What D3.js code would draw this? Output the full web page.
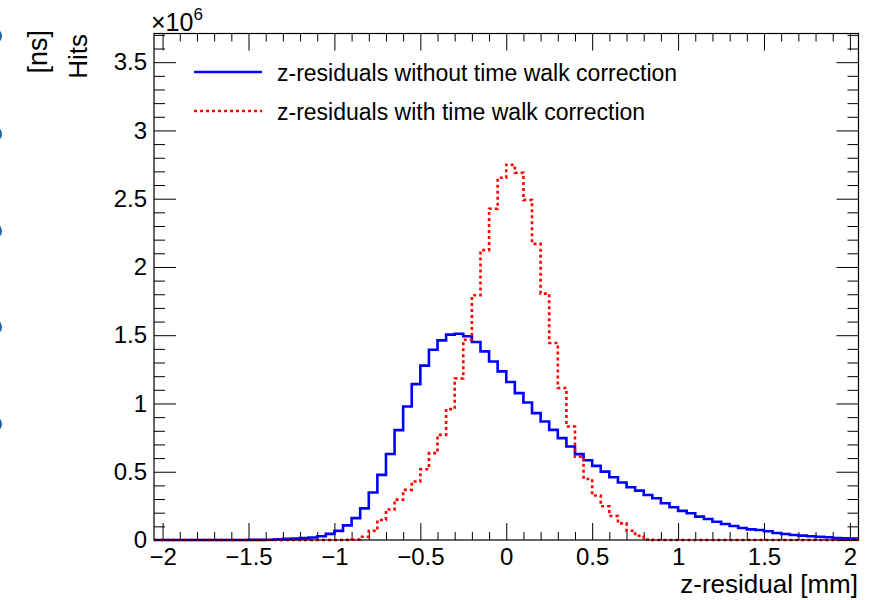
<!DOCTYPE html>
<html><head><meta charset="utf-8">
<script src="https://cdn.jsdelivr.net/npm/d3@7"></script>
<style>
body{margin:0;background:#fff;}
text{font-family:"Liberation Sans",Arial,Helvetica,sans-serif;fill:#000;}
</style></head>
<body><svg id="c" width="882" height="600"></svg>
<script>
// ---- data (values in units of 10^6 hits), 82 bins of width 0.05 starting at -2.05 ----
const binStart = -2.05;
const binWidth = 0.05;
const withoutTW = [
  0,0,0,0,0,0,0,0,0,0,0,0.001,0.001,0.002,0.006,0.008,0.010,0.014,0.018,0.027,
  0.045,0.067,0.107,0.160,0.232,0.348,0.477,0.630,0.805,0.978,1.142,1.277,1.394,1.462,1.504,1.511,1.492,1.450,1.382,1.308,
  1.235,1.157,1.076,1.007,0.929,0.868,0.807,0.746,0.685,0.629,0.584,0.543,0.501,0.460,0.421,0.386,0.362,0.330,0.306,0.269,
  0.240,0.213,0.196,0.171,0.154,0.134,0.117,0.103,0.088,0.078,0.073,0.064,0.051,0.044,0.037,0.032,0.027,0.024,0.020,0.015,
  0.012,0.010
];
const withTW = [
  0,0,0,0,0,0,0,0,0,0,0,0,0,0,0,0,0,0,0,0,
  0,0,0.001,0.004,0.024,0.068,0.147,0.223,0.296,0.367,0.428,0.518,0.636,0.770,0.959,1.183,1.467,1.793,2.123,2.426,
  2.653,2.749,2.690,2.490,2.169,1.805,1.443,1.113,0.831,0.611,0.447,0.326,0.247,0.176,0.122,0.068,0.031,0.004,0,0,
  0,0,0,0,0,0,0,0,0,0,0,0,0,0,0,0,0,0,0,0,
  0,0
];
const xMajorTicks = [-2,-1.5,-1,-0.5,0,0.5,1,1.5,2];
const yMajorTicks = [0,0.5,1,1.5,2,2.5,3,3.5];
const legendLabels = ["z-residuals without time walk correction","z-residuals with time walk correction"];
const xTitle = "z-residual [mm]";
const yTitle = "Hits";
const strayTitle = "[ns]";

// ---- layout ----
const L = 154, R = 858.5, T = 33.5, B = 540;
const svg = d3.select("#c");
const x = d3.scaleLinear().domain([-2.05, 2.05]).range([L, R]);
const y = d3.scaleLinear().domain([0, 3.71]).range([B, T]);
const fmt = d3.format("~g");
const FONT = '"Liberation Sans",Arial,Helvetica,sans-serif';

// stray blue marks cut at the left edge (remnant of neighbouring figure)
[36,134,231,327,424].forEach(cy=>{
  svg.append("circle").attr("cx",-6).attr("cy",cy).attr("r",8).attr("fill","#1f62a8");
});

// stray "[ns]" title and the y title
svg.append("text").attr("transform","translate(47,30) rotate(-90)").attr("text-anchor","end")
  .attr("font-size",27).text(strayTitle);
svg.append("text").attr("transform","translate(87,34) rotate(-90)").attr("text-anchor","end")
  .attr("font-size",26).text(yTitle);

// minor ticks
const xMinor = d3.range(-20, 21).map(d=>d/10).filter(v=>!xMajorTicks.some(m=>Math.abs(m-v)<1e-9));
const yMinor = d3.range(0, 38).map(d=>d/10).filter(v=>!yMajorTicks.some(m=>Math.abs(m-v)<1e-9));

function styleAxis(g){
  g.select(".domain").remove();
  g.attr("font-family",FONT).attr("font-size",24).attr("color","#000");
  g.selectAll("line").attr("stroke","#000").attr("stroke-width",1);
}
// bottom
svg.append("g").attr("transform",`translate(0,${B})`)
  .call(d3.axisBottom(x).tickValues(xMajorTicks).tickSize(-17).tickPadding(8).tickFormat(fmt)).call(styleAxis);
svg.append("g").attr("transform",`translate(0,${B})`)
  .call(d3.axisBottom(x).tickValues(xMinor).tickSize(-8).tickFormat("")).call(styleAxis);
// top
svg.append("g").attr("transform",`translate(0,${T})`)
  .call(d3.axisTop(x).tickValues(xMajorTicks).tickSize(-17).tickFormat("")).call(styleAxis);
svg.append("g").attr("transform",`translate(0,${T})`)
  .call(d3.axisTop(x).tickValues(xMinor).tickSize(-8).tickFormat("")).call(styleAxis);
// left
svg.append("g").attr("transform",`translate(${L},0)`)
  .call(d3.axisLeft(y).tickValues(yMajorTicks).tickSize(-22).tickPadding(7).tickFormat(fmt)).call(styleAxis);
svg.append("g").attr("transform",`translate(${L},0)`)
  .call(d3.axisLeft(y).tickValues(yMinor).tickSize(-11).tickFormat("")).call(styleAxis);
// right
svg.append("g").attr("transform",`translate(${R},0)`)
  .call(d3.axisRight(y).tickValues(yMajorTicks).tickSize(-22).tickFormat("")).call(styleAxis);
svg.append("g").attr("transform",`translate(${R},0)`)
  .call(d3.axisRight(y).tickValues(yMinor).tickSize(-11).tickFormat("")).call(styleAxis);

// histograms
function stepPoints(vals){
  const pts = [];
  vals.forEach((v,i)=>{
    const x0 = binStart + i*binWidth, x1 = x0 + binWidth;
    pts.push([x0,v],[x1,v]);
  });
  return pts;
}
const line = d3.line().x(d=>x(d[0])).y(d=>y(d[1]));
svg.append("path").attr("d",line(stepPoints(withoutTW))).attr("fill","none")
  .attr("stroke","#0000ff").attr("stroke-width",2.6).attr("stroke-linejoin","miter");
svg.append("path").attr("d",line(stepPoints(withTW))).attr("fill","none")
  .attr("stroke","#ff0000").attr("stroke-width",2.6).attr("stroke-dasharray","3,3");

// frame
svg.append("rect").attr("x",L).attr("y",T).attr("width",R-L).attr("height",B-T)
  .attr("fill","none").attr("stroke","#000").attr("stroke-width",1.2);

// exponent label
const ex = svg.append("text").attr("x",151).attr("y",31).attr("font-size",25);
ex.append("tspan").text("\u00d710");
ex.append("tspan").attr("font-size",17).attr("dy",-11).text("6");

// x title
svg.append("text").attr("x",858).attr("y",593).attr("text-anchor","end").attr("font-size",26).text(xTitle);

// legend
const legY = [72, 111];
svg.append("line").attr("x1",194).attr("x2",262).attr("y1",legY[0]).attr("y2",legY[0])
  .attr("stroke","#0000ff").attr("stroke-width",2.6);
svg.append("line").attr("x1",194).attr("x2",262).attr("y1",legY[1]).attr("y2",legY[1])
  .attr("stroke","#ff0000").attr("stroke-width",2.6).attr("stroke-dasharray","3,3");
legendLabels.forEach((t,i)=>{
  svg.append("text").attr("x",277).attr("y",legY[i]+9).attr("font-size",23).text(t);
});
</script>
</body></html>
